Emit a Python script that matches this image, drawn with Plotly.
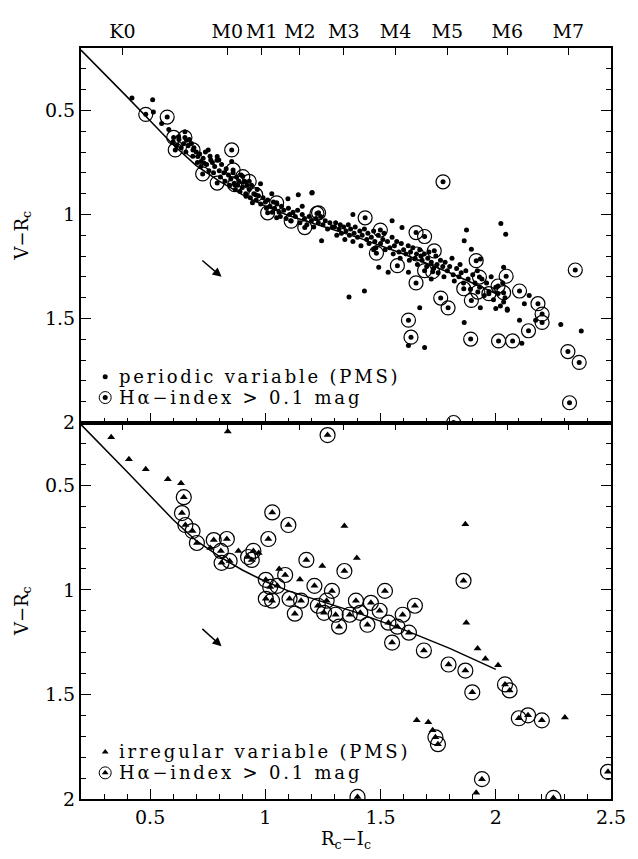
import plotly.graph_objects as go

# ---------------- data ----------------
spt_labels = ["K0", "M0", "M1", "M2", "M3", "M4", "M5", "M6", "M7"]
spt_pos = [0.38, 0.835, 0.985, 1.15, 1.34, 1.565, 1.79, 2.05, 2.315]

line_x = [0.2, 0.3, 0.4, 0.5, 0.6, 0.7, 0.8, 0.9, 1.0, 1.1, 1.2, 1.4, 1.6, 1.8, 2.0]
line_y = [0.21, 0.32, 0.435, 0.55, 0.665, 0.765, 0.84, 0.905, 0.96, 1.005, 1.04, 1.11, 1.19, 1.28, 1.38]

# top panel: periodic variables (dots)
per_x = [0.421, 0.511, 0.514, 0.55, 0.581, 0.623, 0.651, 0.658, 0.679, 0.752, 0.854, 0.707, 0.721, 0.735,
         0.763, 0.791, 0.798, 0.979, 0.916, 0.944, 1.028, 1.098, 1.143, 1.202, 1.16, 1.049,
         0.60, 0.615, 0.625, 0.635, 0.645, 0.655, 0.665, 0.67, 0.685, 0.69, 0.70, 0.705, 0.715, 0.72,
         0.73, 0.74, 0.745, 0.755, 0.76, 0.77, 0.775, 0.78, 0.79, 0.80, 0.805, 0.81, 0.82, 0.825, 0.83,
         0.84, 0.845, 0.85, 0.86, 0.865, 0.87, 0.875, 0.88, 0.885, 0.89, 0.895, 0.90, 0.91, 0.915, 0.92,
         0.93, 0.935, 0.94, 0.95, 0.96, 0.965, 0.97, 0.98, 0.99, 1.00, 1.005, 1.01, 1.02, 1.03, 1.035,
         1.04, 1.05, 1.06, 1.065, 1.07, 1.08, 1.09, 1.10, 1.105, 1.11, 1.12, 1.13, 1.14, 1.15, 1.16,
         1.17, 1.18, 1.19, 1.20, 1.21, 1.22, 1.23, 1.24, 1.25, 1.26, 1.27, 1.28, 1.29,
         1.203, 1.244, 1.593, 1.492, 1.533, 1.621, 1.363, 1.430, 1.670, 1.621, 1.691, 1.863, 2.113, 1.873,
         1.863, 2.022, 2.043, 1.894, 1.933, 1.933, 2.034, 2.0, 2.034, 2.05, 2.145, 2.103, 2.124, 2.173,
         2.282, 2.371,
         1.30, 1.305, 1.31, 1.32, 1.325, 1.33, 1.34, 1.345, 1.35, 1.36, 1.365, 1.37, 1.38, 1.385, 1.39,
         1.40, 1.41, 1.415, 1.42, 1.43, 1.44, 1.445, 1.45, 1.46, 1.47, 1.475, 1.48, 1.49, 1.50, 1.51,
         1.515, 1.52, 1.53, 1.54, 1.55, 1.555, 1.56, 1.57, 1.58, 1.585, 1.59, 1.60, 1.61, 1.62, 1.625,
         1.63, 1.64, 1.65, 1.66, 1.67, 1.675, 1.68, 1.69, 1.70, 1.705, 1.71, 1.72, 1.73, 1.74, 1.745,
         1.75, 1.76, 1.77, 1.775, 1.78, 1.79, 1.80, 1.81, 1.815, 1.82, 1.83, 1.84, 1.845, 1.85, 1.86,
         1.87, 1.88, 1.89, 1.90, 1.91, 1.92, 1.93, 1.94, 1.95, 1.96, 1.97, 1.98, 1.99, 2.00, 2.01, 2.02,
         2.03, 2.04, 2.05, 1.38, 1.55, 1.47, 1.72]
per_y = [0.44, 0.449, 0.508, 0.563, 0.592, 0.627, 0.603, 0.643, 0.659, 0.69, 0.746, 0.722, 0.746, 0.754,
         0.738, 0.722, 0.738, 0.852, 0.913, 0.944, 0.9, 0.925, 0.905, 0.897, 0.96, 1.016,
         0.65, 0.67, 0.64, 0.68, 0.66, 0.70, 0.67, 0.64, 0.72, 0.68, 0.70, 0.75, 0.71, 0.77,
         0.73, 0.70, 0.76, 0.79, 0.72, 0.75, 0.80, 0.77, 0.74, 0.79, 0.82, 0.76, 0.80, 0.84, 0.78,
         0.81, 0.86, 0.83, 0.80, 0.85, 0.88, 0.82, 0.86, 0.84, 0.89, 0.81, 0.87, 0.84, 0.90, 0.86,
         0.88, 0.92, 0.86, 0.90, 0.93, 0.88, 0.91, 0.95, 0.92, 0.94, 0.97, 0.93, 0.96, 0.99, 0.94,
         0.97, 0.95, 0.99, 1.01, 0.96, 0.98, 1.02, 0.97, 1.00, 1.03, 0.99, 1.01, 0.98, 1.04, 1.00,
         1.02, 1.05, 1.01, 1.03, 1.06, 1.02, 1.04, 1.01, 1.05, 1.03, 1.07, 1.04, 1.06,
         0.894, 1.127, 1.063, 1.254, 1.278, 1.278, 1.397, 1.368, 1.449, 1.63, 1.64, 1.519, 1.619, 1.075,
         1.127, 1.044, 1.095, 1.167, 1.214, 1.449, 1.254, 1.452, 1.421, 1.455, 1.389, 1.508, 1.429, 1.508,
         1.529, 1.56,
         1.06, 1.04, 1.10, 1.07, 1.05, 1.09, 1.06, 1.12, 1.08, 1.05, 1.10, 1.07, 1.13, 1.09, 1.06,
         1.11, 1.08, 1.15, 1.10, 1.07, 1.12, 1.09, 1.14, 1.11, 1.08, 1.13, 1.16, 1.10, 1.14, 1.12,
         1.09, 1.17, 1.13, 1.16, 1.11, 1.19, 1.15, 1.13, 1.18, 1.21, 1.14, 1.17, 1.19, 1.15, 1.22,
         1.18, 1.16, 1.21, 1.24, 1.17, 1.20, 1.22, 1.19, 1.25, 1.21, 1.18, 1.23, 1.26, 1.20, 1.24,
         1.28, 1.22, 1.25, 1.30, 1.23, 1.27, 1.25, 1.21, 1.29, 1.32, 1.26, 1.30, 1.24, 1.28, 1.33,
         1.27, 1.31, 1.36, 1.29, 1.33, 1.27, 1.35, 1.31, 1.39, 1.33, 1.37, 1.30, 1.41, 1.35, 1.38, 1.44,
         1.33, 1.40, 1.46, 1.00, 1.03, 1.17, 1.31]

# top panel: periodic variables with H-alpha index > 0.1 mag (circled)
perha_x = [0.481, 0.574, 0.602, 0.651, 0.609, 0.686, 0.854, 0.728, 0.791, 0.86, 0.902, 0.93, 0.867, 0.958,
           1.049, 1.01, 1.112, 1.171, 1.231,
           1.771, 1.433, 1.224, 1.654, 1.691, 1.499, 1.482, 1.573, 1.654, 1.733, 1.656, 1.691, 1.726,
           1.761, 1.793, 1.621, 1.632, 1.891, 2.012, 2.073, 1.915, 1.929, 1.861, 1.894, 1.922, 1.970,
           2.010, 2.045, 2.034, 2.103, 2.142, 2.183, 2.201, 2.201, 2.345, 2.313, 2.362, 2.32, 1.817]
perha_y = [0.519, 0.532, 0.63, 0.63, 0.69, 0.69, 0.69, 0.805, 0.849, 0.786, 0.818, 0.841, 0.857, 0.905,
           0.944, 0.992, 1.032, 1.063, 0.992,
           0.843, 1.016, 0.995, 1.087, 1.106, 1.075, 1.186, 1.246, 1.329, 1.175, 1.19, 1.27, 1.275,
           1.402, 1.449, 1.508, 1.59, 1.599, 1.608, 1.608, 1.222, 1.301, 1.357, 1.413, 1.373, 1.381,
           1.344, 1.297, 1.376, 1.368, 1.559, 1.429, 1.479, 1.519, 1.267, 1.659, 1.711, 1.905, 2.0]

# bottom panel: irregular variables (triangles)
irr_x = [0.331, 0.837, 0.408, 0.481, 0.577, 0.634, 0.761, 0.883, 0.971, 1.247, 1.343, 1.397, 1.868,
         1.872, 1.921, 1.955, 2.01, 1.657, 1.707, 1.726, 2.30, 1.915, 1.15, 1.06]
irr_y = [0.271, 0.243, 0.376, 0.424, 0.471, 0.490, 0.80, 0.814, 0.824, 0.886, 0.695, 0.848, 0.686,
         1.157, 1.28, 1.33, 1.36, 1.624, 1.633, 1.671, 1.61, 1.97, 0.95, 0.90]

# bottom panel: irregular variables with H-alpha index > 0.1 mag (circled)
irrha_x = [1.27, 0.646, 0.638, 0.653, 0.684, 0.703, 0.776, 0.807, 0.833, 0.81, 0.845, 0.925, 0.941, 0.948,
           1.03, 1.10, 1.013, 1.002, 1.021, 1.002, 1.029, 1.052, 1.086, 1.105, 1.128, 1.155, 1.178,
           1.213, 1.228, 1.255, 1.266, 1.289, 1.305, 1.32, 1.343, 1.366, 1.393, 1.412, 1.443, 1.458,
           1.496, 1.519, 1.534, 1.55, 1.573, 1.596, 1.623, 1.649, 1.688, 1.738, 1.749, 1.795, 1.86,
           1.868, 1.898, 2.04, 2.06, 2.10, 2.14, 2.20, 1.94, 1.40, 2.25, 2.487]
irrha_y = [0.26, 0.557, 0.633, 0.69, 0.719, 0.776, 0.762, 0.814, 0.757, 0.871, 0.862, 0.843, 0.857, 0.814,
           0.63, 0.69, 0.757, 0.952, 0.986, 1.043, 1.052, 0.981, 0.929, 1.043, 1.114, 1.052, 0.857,
           0.981, 1.076, 1.11, 1.052, 1.005, 1.119, 1.176, 0.91, 1.119, 1.052, 1.11, 1.167, 1.062,
           1.10, 1.005, 1.157, 1.252, 1.176, 1.119, 1.205, 1.076, 1.29, 1.705, 1.738, 1.357, 0.957,
           1.386, 1.49, 1.452, 1.481, 1.614, 1.60, 1.624, 1.905, 1.99, 1.995, 1.87]

# reddening vectors (start, end) for top and bottom panels
vec_top_x, vec_top_y = [0.72, 0.81], [1.215, 1.30]
vec_bot_x, vec_bot_y = [0.72, 0.81], [1.18, 1.27]

# legend rows: (marker y, text)
leg_top = [(1.78, "periodic variable (PMS)"), (1.88, "Hα−index > 0.1 mag")]
leg_bot = [(1.775, "irregular variable (PMS)"), (1.875, "Hα−index > 0.1 mag")]

# ---------------- figure ----------------
FONT = "DejaVu Serif"
# page body has an 8px margin; plot frame must land at x 69..618, y 37..799 in the window
W, H = 630, 851
L, R, T, B = 61, 20, 29, 60
split = (799 - 417) / (799 - 37)

fig = go.Figure()

for xa, ya in (("x2", "y2"), ("x", "y")):
    fig.add_trace(go.Scatter(x=line_x, y=line_y, mode="lines", line=dict(color="black", width=1.5),
                             xaxis=xa, yaxis=ya, showlegend=False, hoverinfo="skip"))

fig.add_trace(go.Scatter(x=per_x + perha_x, y=per_y + perha_y, mode="markers",
                         marker=dict(symbol="circle", size=5, color="black"),
                         xaxis="x2", yaxis="y2", showlegend=False))
fig.add_trace(go.Scatter(x=perha_x, y=perha_y, mode="markers",
                         marker=dict(symbol="circle-open", size=14, color="black", line=dict(width=1.2)),
                         xaxis="x2", yaxis="y2", showlegend=False))

fig.add_trace(go.Scatter(x=irr_x + irrha_x, y=irr_y + irrha_y, mode="markers",
                         marker=dict(symbol="triangle-up", size=7, color="black"),
                         xaxis="x", yaxis="y", showlegend=False))
fig.add_trace(go.Scatter(x=irrha_x, y=irrha_y, mode="markers",
                         marker=dict(symbol="circle-open", size=15, color="black", line=dict(width=1.2)),
                         xaxis="x", yaxis="y", showlegend=False))

LEG_X = 0.305
for xa, ya, rows, sym, sz in (("x2", "y2", leg_top, "circle", 5), ("x", "y", leg_bot, "triangle-up", 6)):
    for i, (ly, txt) in enumerate(rows):
        fig.add_trace(go.Scatter(x=[LEG_X], y=[ly], mode="markers",
                                 marker=dict(symbol=sym, size=sz, color="black"),
                                 xaxis=xa, yaxis=ya, showlegend=False, hoverinfo="skip"))
        if i == 1:
            fig.add_trace(go.Scatter(x=[LEG_X], y=[ly], mode="markers",
                                     marker=dict(symbol="circle-open", size=12, color="black", line=dict(width=1)),
                                     xaxis=xa, yaxis=ya, showlegend=False, hoverinfo="skip"))
        fig.add_annotation(x=LEG_X + 0.05, y=ly, xref=xa, yref=ya,
                           text='<span style="letter-spacing:2.8px">' + txt + '</span>', showarrow=False,
                           xanchor="left", yanchor="middle", font=dict(family=FONT, size=18, color="black"))

for xa, ya, vx, vy in (("x2", "y2", vec_top_x, vec_top_y), ("x", "y", vec_bot_x, vec_bot_y)):
    fig.add_annotation(x=vx[1], y=vy[1], ax=vx[0], ay=vy[0], xref=xa, yref=ya,
                       axref=xa, ayref=ya, showarrow=True, arrowhead=2, arrowsize=1.2, arrowwidth=1.5,
                       arrowcolor="black", text="")

tickfont = dict(family=FONT, size=19, color="black")
minor_x = [round(0.3 + 0.1 * i, 1) for i in range(22)]
minor_x = [v for v in minor_x if v not in (0.5, 1.0, 1.5, 2.0, 2.5)]
minor_y = [round(0.3 + 0.1 * i, 1) for i in range(17)]
minor_y = [v for v in minor_y if v not in (0.5, 1.0, 1.5, 2.0)]

common_x = dict(range=[0.2, 2.5], showgrid=False, zeroline=False, showline=True, linecolor="black",
                linewidth=2, ticks="inside", ticklen=10, tickwidth=1.3, tickcolor="black",
                tickvals=[0.5, 1, 1.5, 2, 2.5],
                minor=dict(tickvals=minor_x, ticks="inside", ticklen=5, tickwidth=1.3, tickcolor="black"))
common_y = dict(range=[2, 0.2], showgrid=False, zeroline=False, showline=True, linecolor="black",
                linewidth=2, ticks="inside", ticklen=10, tickwidth=1.3, tickcolor="black", mirror="ticks",
                tickvals=[0.5, 1, 1.5, 2], ticktext=["0.5", "1", "1.5", "2"], tickfont=tickfont,
                minor=dict(tickvals=minor_y, ticks="inside", ticklen=5, tickwidth=1.3, tickcolor="black"),
                title=dict(text="V−R<sub>c</sub>", font=dict(family=FONT, size=18, color="black"), standoff=12))

spt_axis = dict(range=[0.2, 2.5], showgrid=False, zeroline=False, showline=True, linecolor="black",
                linewidth=2, ticks="inside", ticklen=7, tickwidth=1.3, tickcolor="black",
                tickvals=spt_pos, side="top")

fig.update_layout(
    width=W, height=H, margin=dict(l=L, r=R, t=T, b=B), plot_bgcolor="white", paper_bgcolor="white",
    xaxis=dict(**common_x, anchor="y", domain=[0, 1], ticktext=["0.5", "1", "1.5", "2", "2.5"],
               tickfont=tickfont,
               title=dict(text="R<sub>c</sub>−I<sub>c</sub>", font=dict(family=FONT, size=18, color="black"), standoff=2)),
    yaxis=dict(**common_y, domain=[0, split], anchor="x"),
    xaxis2=dict(**common_x, anchor="y2", domain=[0, 1], showticklabels=False),
    yaxis2=dict(**common_y, domain=[split, 1], anchor="x2"),
    xaxis3=dict(**spt_axis, overlaying="x2", anchor="y2", ticktext=spt_labels, tickfont=tickfont),
    xaxis4=dict(**spt_axis, overlaying="x", anchor="y", showticklabels=False),
)
fig.add_trace(go.Scatter(x=[None], y=[None], xaxis="x3", yaxis="y2", showlegend=False))
fig.add_trace(go.Scatter(x=[None], y=[None], xaxis="x4", yaxis="y", showlegend=False))

fig.write_html("out.html")
